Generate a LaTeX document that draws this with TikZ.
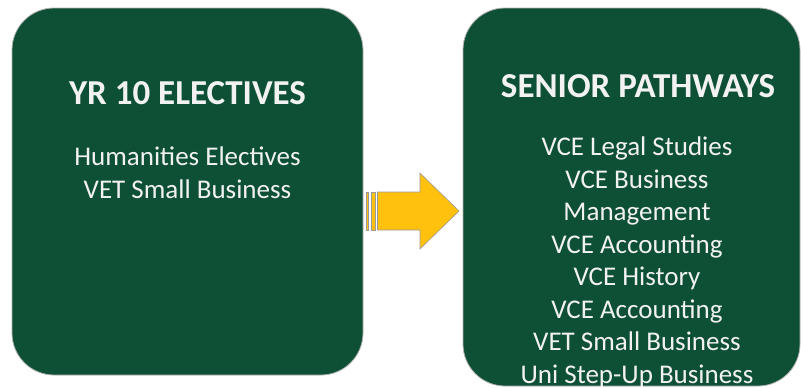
\documentclass[tikz,border=0pt]{standalone}
\usepackage{fontspec}
\setmainfont{Carlito}
\usetikzlibrary{positioning, calc}
\definecolor{boxgreen}{HTML}{0E5035}
\definecolor{arrowgold}{HTML}{FFC10E}
\definecolor{textwhite}{HTML}{F2F2F2}

\begin{document}
\begin{tikzpicture}[
    x=1pt, y=-1pt,
    panel/.style={draw=gray!60, line width=0.8pt, rounded corners=42pt, fill=boxgreen},
    heading/.style={anchor=base, text=textwhite, font=\fontsize{35}{40}\selectfont\bfseries, inner sep=0pt},
    items/.style={anchor=base, text=textwhite, align=center, font=\fontsize{27}{32.5}\selectfont, inner sep=0pt},
    stripe/.style={draw=gray!80, line width=0.6pt, fill=arrowgold}
  ]
    \useasboundingbox (0,0) rectangle (801,388);

    \node[panel, minimum width=351pt, minimum height=367pt] (yr) at (187.5,191.5) {};
    \node[panel, minimum width=337pt, minimum height=378pt] (sp) at (631.5,197) {};

    \node[heading] (yrhead) at (187.5,104) {YR 10 ELECTIVES};
    \node[items] (yrlist) at (187.5,198) {Humanities Electives\\VET Small Business};

    \node[heading] (sphead) at (638,97) {SENIOR PATHWAYS};
    \node[items] (splist) at (637,383) {VCE Legal Studies\\VCE Business\\Management\\VCE Accounting\\VCE History\\VCE Accounting\\VET Small Business\\Uni Step-Up Business};

    % block arrow between the panels
    \filldraw[stripe] (366,192) rectangle (368.5,230);
    \filldraw[stripe] (370.8,192) rectangle (375.3,230);
    \filldraw[stripe] (377.5,192) -- (420,192) -- (420,173) -- (459,211) -- (420,249) -- (420,230) -- (377.5,230) -- cycle;
  \end{tikzpicture}
\end{document}
